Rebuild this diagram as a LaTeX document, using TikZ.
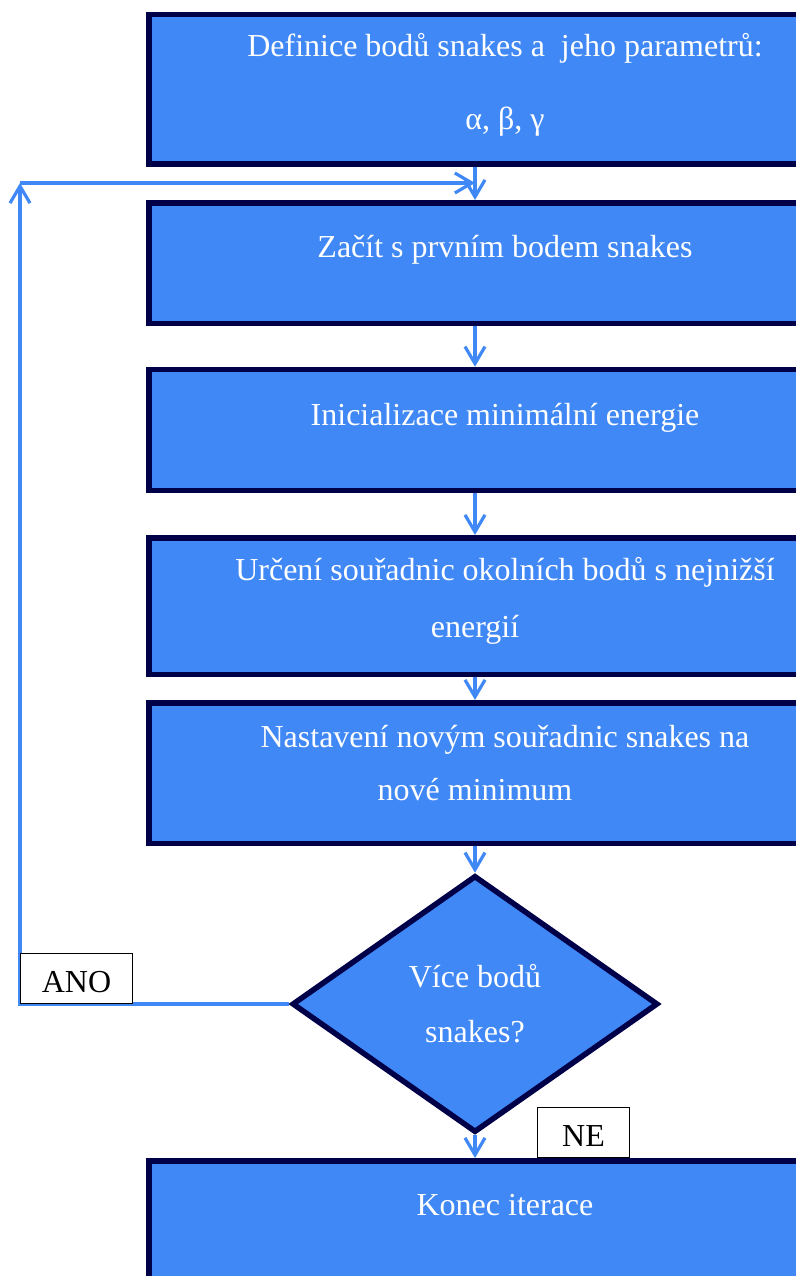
\documentclass[tikz,border=0pt]{standalone}
\usepackage{fontspec}
\setmainfont{Liberation Serif}
\usetikzlibrary{shapes.geometric,arrows.meta}
\definecolor{boxblue}{RGB}{64,136,245}
\definecolor{boxnavy}{RGB}{0,0,72}
\tikzset{
  procbox/.style={draw=boxnavy, line width=5.5pt, fill=boxblue, text=white, minimum width=652pt, inner sep=0pt, align=center, font=\fontsize{32}{54}\selectfont},
  decbox/.style={diamond, draw=boxnavy, line width=5.5pt, fill=boxblue, text=white, minimum width=366pt, minimum height=257pt, inner sep=0pt, align=center, font=\fontsize{32}{55}\selectfont},
  tagbox/.style={draw=black, line width=1pt, fill=white, minimum width=112pt, minimum height=50pt, inner sep=0pt, text height=27pt, text depth=0pt, font=\fontsize{32}{37}\selectfont},
  flow/.style={draw=boxblue, line width=3.2pt}
}

\begin{document}
\begin{tikzpicture}[x=1pt, y=1pt, >={Straight Barb[length=17pt,width=20pt]}]
		\useasboundingbox (0,0) rectangle (795,-1276);
		\node (init) [procbox, text height=115pt, text depth=34.5pt] at (475,-89.5) {\hspace*{60pt}Definice bodů snakes a~ jeho parametrů:\\[19pt]\hspace*{60pt}α, β, γ};
		\node (first) [procbox, node distance=173.5pt, below of=init, text height=55pt, text depth=65.5pt] {\hspace*{60pt}Začít s prvním bodem snakes};
		\node (minen) [procbox, node distance=167pt, below of=first, text height=55.5pt, text depth=65.5pt] {\hspace*{60pt}Inicializace minimální energie};
		\node (nbr) [procbox, node distance=176pt, below of=minen, text height=100pt, text depth=36.5pt] {\hspace*{60pt}Určení souřadnic okolních bodů s nejnižší\\[3pt]energií};
		\node (move) [procbox, node distance=167pt, below of=nbr, text height=98pt, text depth=42.5pt] {\hspace*{60pt}Nastavení novým souřadnic snakes na\\[-1pt]nové minimum};
		\node (more) [decbox, node distance=231pt, below of=move] {Více bodů\\snakes?};
		\node (stop) [procbox, node distance=226.75pt, below of=more, text height=55pt, text depth=85pt] {\hspace*{60pt}Konec iterace};
		
		\coordinate (back) at (20,-183);
		\coordinate (merge) at (first.north |- back);
		
		\draw[flow, ->] (init) -- (first);
		\draw[flow, ->] (first) -- (minen);
		\draw[flow, ->] (minen) -- (nbr);
		\draw[flow, ->] (nbr) -- (move);
		\draw[flow, ->] (move) -- (more);
		\draw[flow, ->] (more) -- (stop);
		\draw[flow, ->] (more.west) -| (back);
		\draw[flow, ->] (back) -- (merge);
		
		\node (yes) [tagbox, anchor=south west] at (back |- more.west) {ANO};
		\node (no) [tagbox, anchor=south west, minimum width=92pt, xshift=62pt] at (stop.north) {NE};
	\end{tikzpicture}
\end{document}
